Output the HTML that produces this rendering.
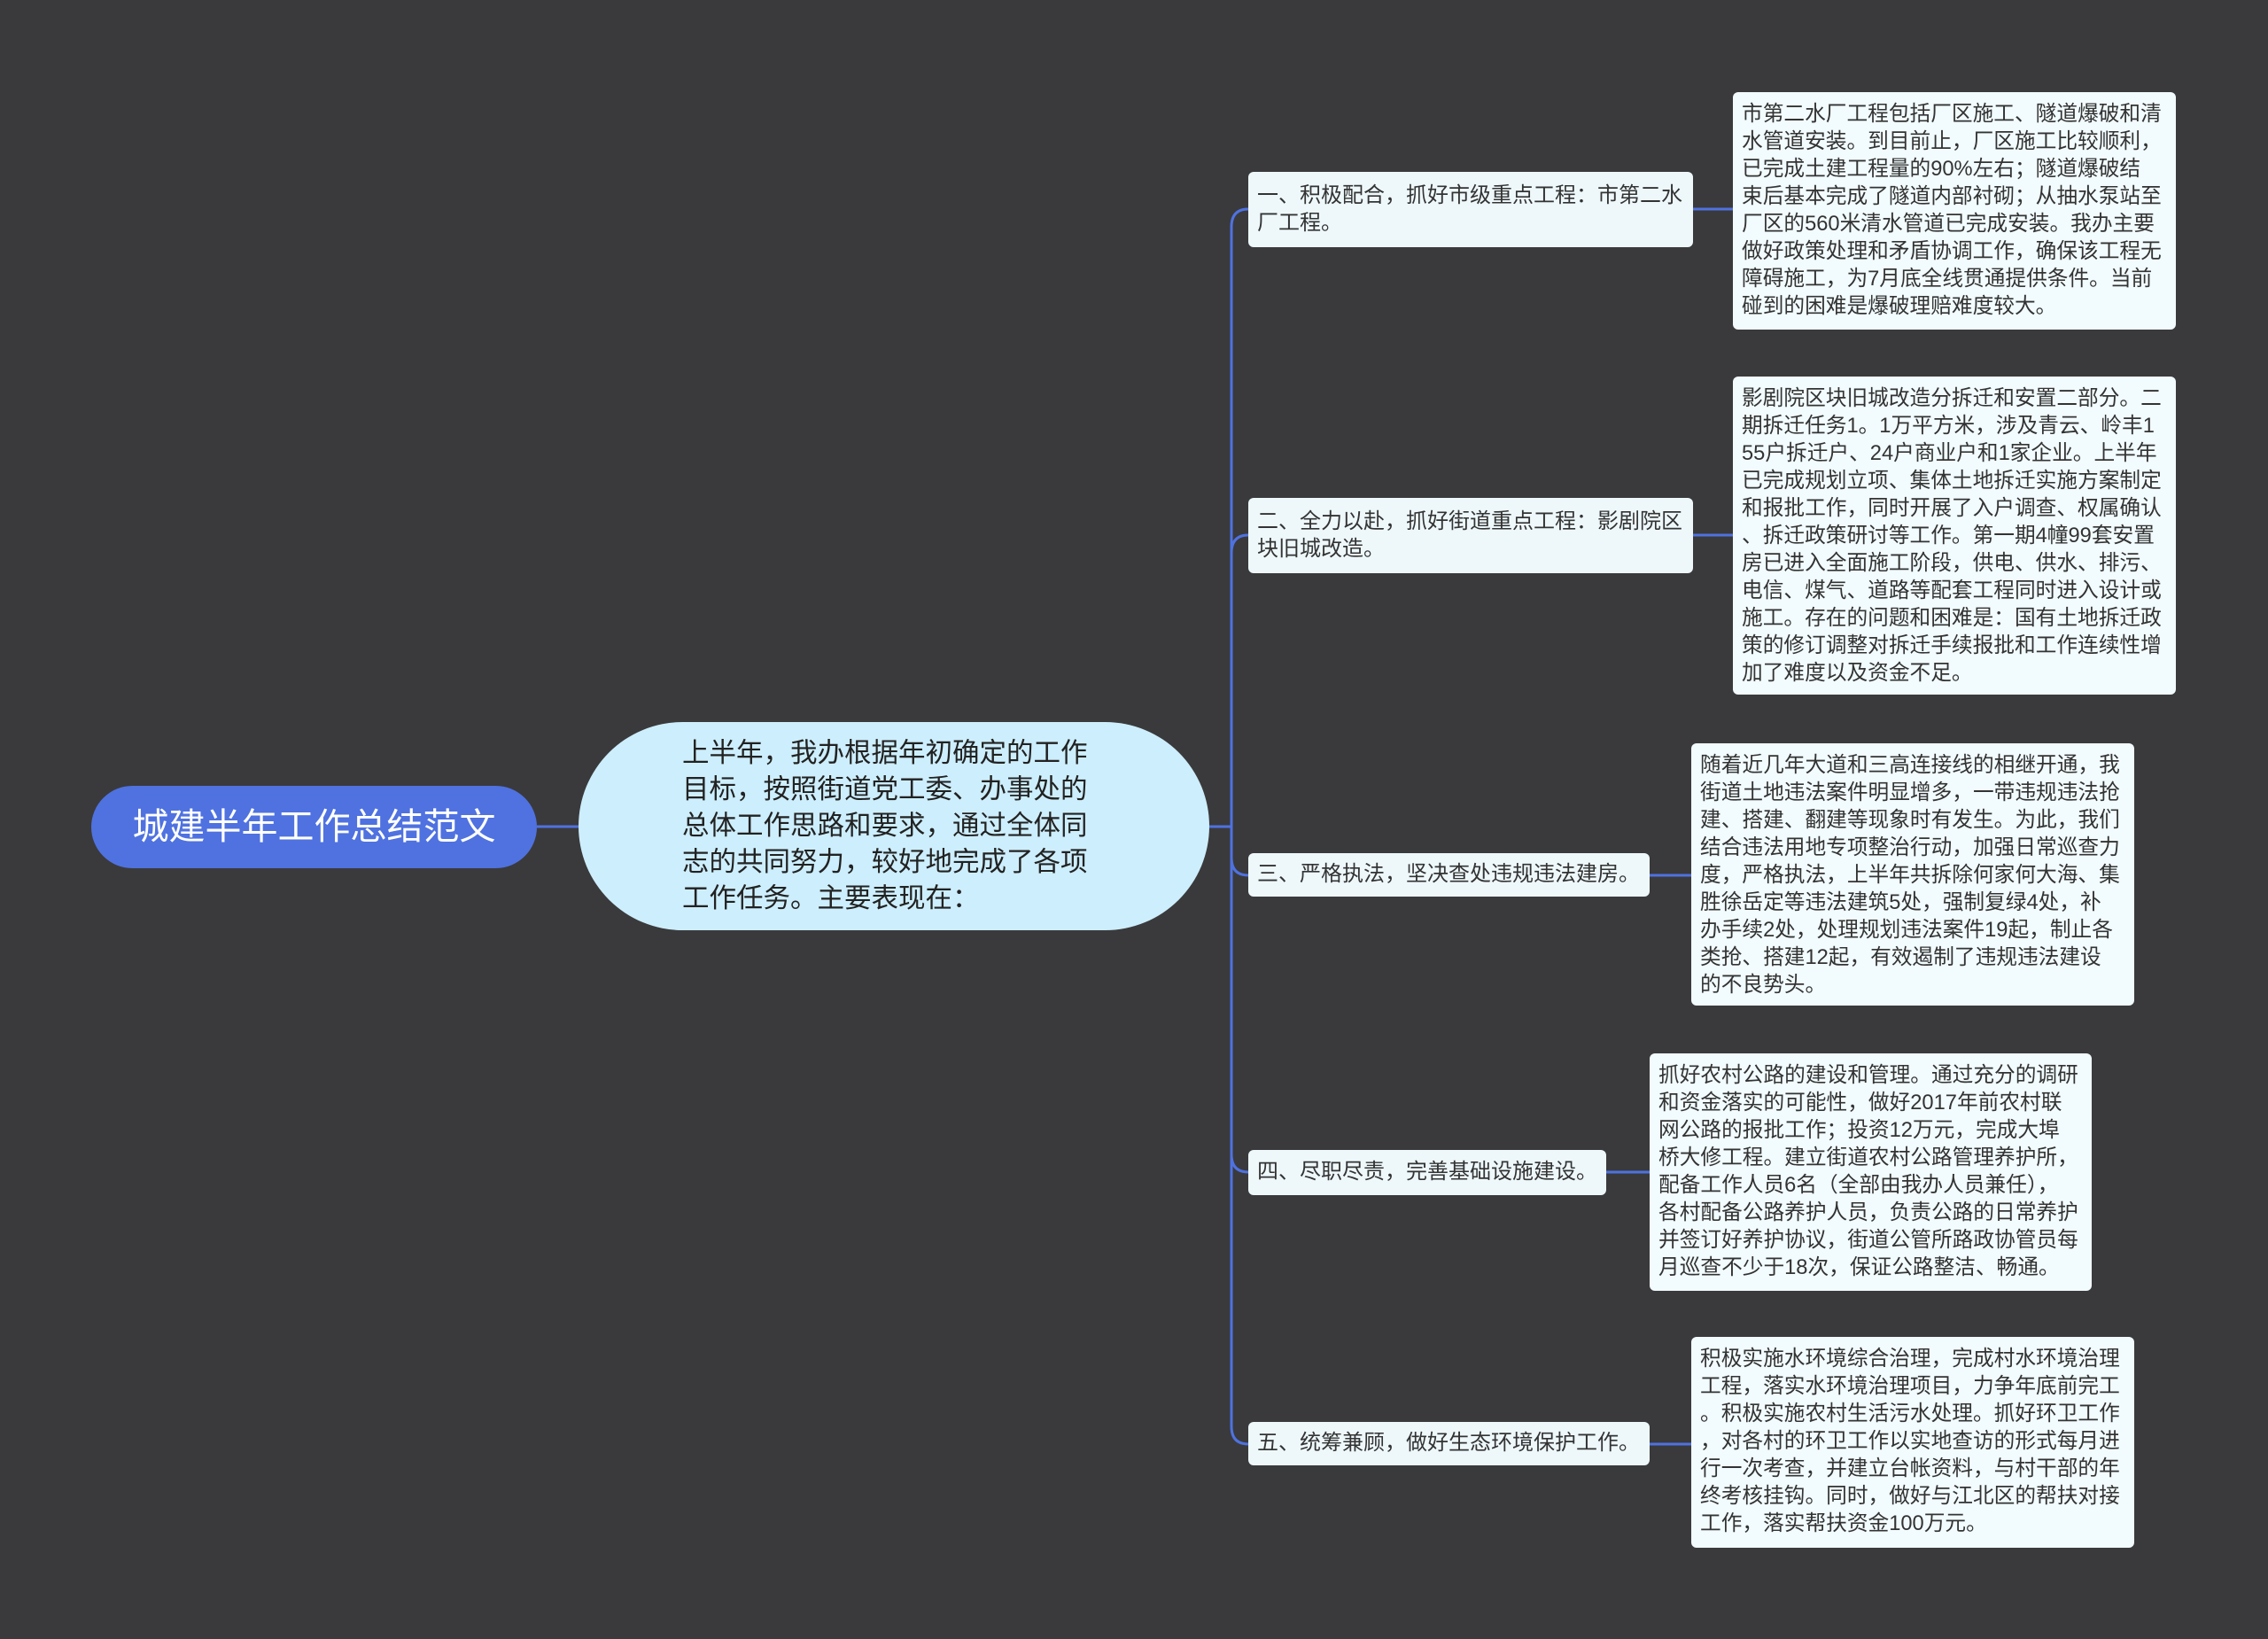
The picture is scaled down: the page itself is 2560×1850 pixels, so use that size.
<!DOCTYPE html>
<html><head><meta charset="utf-8"><style>
html,body{margin:0;padding:0;}
body{width:2560px;height:1850px;background:#3a3a3c;position:relative;overflow:hidden;font-family:"Liberation Sans","Noto Sans CJK SC",sans-serif;}
.n{position:absolute;box-sizing:border-box;}
.root{left:103px;top:887px;width:503px;height:93px;background:#4f72e0;border-radius:47px;color:#fff;font-size:41px;line-height:93px;text-align:center;}
.center{left:653px;top:815px;width:712px;height:235px;background:#cdeefc;border-radius:118px;color:#222;font-size:30.5px;line-height:41px;}
.center div{position:absolute;left:117px;top:15px;white-space:pre;}
.br{background:#eef8fb;border-radius:6px;color:#333;font-size:24px;line-height:31px;padding:11px 10px 8px;white-space:pre;}
.dt{background:#f2fbfd;border-radius:6px;color:#333;font-size:23.7px;line-height:31px;padding:10px 10px 7px;white-space:pre;}
</style></head><body>
<svg width="2560" height="1850" style="position:absolute;left:0;top:0">
<g stroke="#4f72e0" stroke-width="3" fill="none">
<path d="M606 933 H653"/>
<path d="M1365 933 H1390"/>
<path d="M1390 933 V256 Q1390 236 1409 236"/>
<path d="M1390 933 V624 Q1390 604 1409 604"/>
<path d="M1390 933 V968 Q1390 988 1409 988"/>
<path d="M1390 933 V1303 Q1390 1323 1409 1323"/>
<path d="M1390 933 V1610 Q1390 1630 1409 1630"/>
<path d="M1911 236 H1956"/>
<path d="M1911 604 H1956"/>
<path d="M1862 988 H1909"/>
<path d="M1813 1323 H1862"/>
<path d="M1862 1630 H1909"/>
</g></svg>
<div class="n root">城建半年工作总结范文</div>
<div class="n center"><div>上半年，我办根据年初确定的工作
目标，按照街道党工委、办事处的
总体工作思路和要求，通过全体同
志的共同努力，较好地完成了各项
工作任务。主要表现在：</div></div>

<div class="n br" style="left:1409px;top:194px;width:502px;height:85px;">一、积极配合，抓好市级重点工程：市第二水
厂工程。</div>
<div class="n br" style="left:1409px;top:562px;width:502px;height:85px;">二、全力以赴，抓好街道重点工程：影剧院区
块旧城改造。</div>
<div class="n br" style="left:1409px;top:963px;width:453px;height:49px;padding-top:8px;">三、严格执法，坚决查处违规违法建房。</div>
<div class="n br" style="left:1409px;top:1298px;width:404px;height:51px;padding-top:9px;">四、尽职尽责，完善基础设施建设。</div>
<div class="n br" style="left:1409px;top:1605px;width:453px;height:49px;padding-top:8px;">五、统筹兼顾，做好生态环境保护工作。</div>

<div class="n dt" style="left:1956px;top:104px;width:500px;height:268px;">市第二水厂工程包括厂区施工、隧道爆破和清
水管道安装。到目前止，厂区施工比较顺利，
已完成土建工程量的90%左右；隧道爆破结
束后基本完成了隧道内部衬砌；从抽水泵站至
厂区的560米清水管道已完成安装。我办主要
做好政策处理和矛盾协调工作，确保该工程无
障碍施工，为7月底全线贯通提供条件。当前
碰到的困难是爆破理赔难度较大。</div>
<div class="n dt" style="left:1956px;top:425px;width:500px;height:359px;">影剧院区块旧城改造分拆迁和安置二部分。二
期拆迁任务1。1万平方米，涉及青云、岭丰1
55户拆迁户、24户商业户和1家企业。上半年
已完成规划立项、集体土地拆迁实施方案制定
和报批工作，同时开展了入户调查、权属确认
、拆迁政策研讨等工作。第一期4幢99套安置
房已进入全面施工阶段，供电、供水、排污、
电信、煤气、道路等配套工程同时进入设计或
施工。存在的问题和困难是：国有土地拆迁政
策的修订调整对拆迁手续报批和工作连续性增
加了难度以及资金不足。</div>
<div class="n dt" style="left:1909px;top:839px;width:500px;height:296px;">随着近几年大道和三高连接线的相继开通，我
街道土地违法案件明显增多，一带违规违法抢
建、搭建、翻建等现象时有发生。为此，我们
结合违法用地专项整治行动，加强日常巡查力
度，严格执法，上半年共拆除何家何大海、集
胜徐岳定等违法建筑5处，强制复绿4处，补
办手续2处，处理规划违法案件19起，制止各
类抢、搭建12起，有效遏制了违规违法建设
的不良势头。</div>
<div class="n dt" style="left:1862px;top:1189px;width:499px;height:268px;">抓好农村公路的建设和管理。通过充分的调研
和资金落实的可能性，做好2017年前农村联
网公路的报批工作；投资12万元，完成大埠
桥大修工程。建立街道农村公路管理养护所，
配备工作人员6名（全部由我办人员兼任），
各村配备公路养护人员，负责公路的日常养护
并签订好养护协议，街道公管所路政协管员每
月巡查不少于18次，保证公路整洁、畅通。</div>
<div class="n dt" style="left:1909px;top:1509px;width:500px;height:238px;">积极实施水环境综合治理，完成村水环境治理
工程，落实水环境治理项目，力争年底前完工
。积极实施农村生活污水处理。抓好环卫工作
，对各村的环卫工作以实地查访的形式每月进
行一次考查，并建立台帐资料，与村干部的年
终考核挂钩。同时，做好与江北区的帮扶对接
工作，落实帮扶资金100万元。</div>
</body></html>
